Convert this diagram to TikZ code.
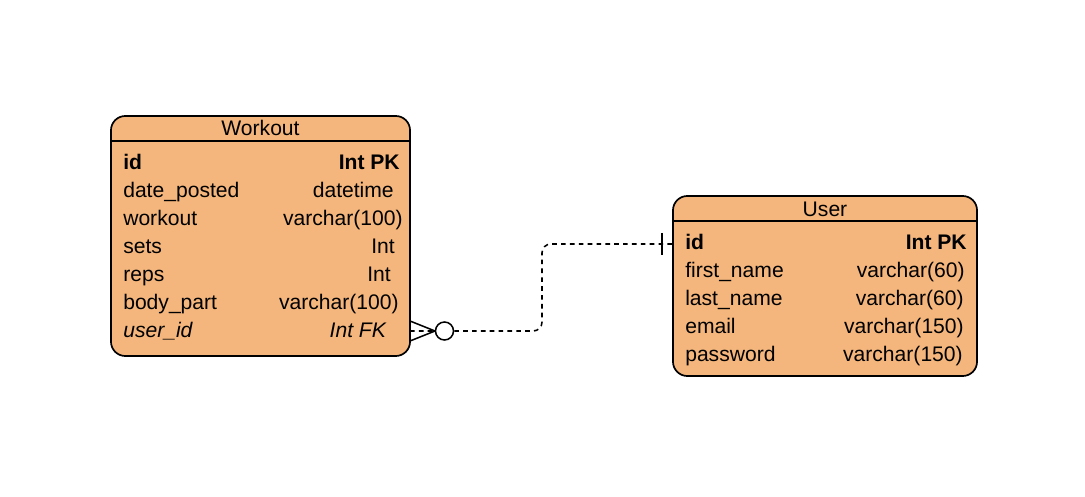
\documentclass[tikz,border=0pt]{standalone}
\usepackage{fontspec}
\setmainfont{Liberation Sans}
\definecolor{tablefill}{HTML}{F4B67C}

\begin{document}
\begin{tikzpicture}[x=0.025cm, y=-0.025cm,
	tbl/.style={draw, line width=1.2pt, fill=tablefill, rounded corners=0.36cm, inner sep=0pt, outer sep=0pt},
	txt/.style={inner sep=0pt, text height=14pt, text depth=2.8pt, font=\fontsize{15}{18}\selectfont},
	col/.style={txt, anchor=west},
	typ/.style={txt, anchor=east},
	rel/.style={line width=1.1pt, dash pattern=on 3.3pt off 3pt, rounded corners=0.22cm}]
	\useasboundingbox (0,0) rectangle (1085,497);

	% Workout table
	\node[tbl, minimum width=7.475cm, minimum height=6cm] (workout) at (260.5,236) {};
	\draw[line width=1.2pt] (111,141) -- (410,141);
	\node[txt] (workouttitle) at (260.5,128) {Workout};
	\node[col] (wid) at (123,162) {\textbf{id}};
	\node[typ] (widtype) at (400,162) {\textbf{Int PK}};
	\node[col] (wdate) at (123,190) {date\_posted};
	\node[typ] (wdatetype) at (394,190) {datetime};
	\node[col] (wname) at (123,218) {workout};
	\node[typ] (wnametype) at (403,218) {varchar(100)};
	\node[col] (wsets) at (123,246) {sets};
	\node[typ] (wsetstype) at (395,246) {Int};
	\node[col] (wreps) at (123,274) {reps};
	\node[typ] (wrepstype) at (391,274) {Int};
	\node[col] (wbody) at (123,302) {body\_part};
	\node[typ] (wbodytype) at (399,302) {varchar(100)};
	\node[col] (wuser) at (123,330) {\textit{user\_id}};
	\node[typ] (wusertype) at (387,330) {\textit{Int FK}};

	% User table
	\node[tbl, minimum width=7.6cm, minimum height=4.5cm] (user) at (825,286) {};
	\draw[line width=1.2pt] (673,221) -- (977,221);
	\node[txt] (usertitle) at (825,208.5) {User};
	\node[col] (uid) at (685,242) {\textbf{id}};
	\node[typ] (uidtype) at (967,242) {\textbf{Int PK}};
	\node[col] (ufirst) at (685,270) {first\_name};
	\node[typ] (ufirsttype) at (965,270) {varchar(60)};
	\node[col] (ulast) at (685,298) {last\_name};
	\node[typ] (ulasttype) at (964,298) {varchar(60)};
	\node[col] (uemail) at (685,326) {email};
	\node[typ] (uemailtype) at (964,326) {varchar(150)};
	\node[col] (upass) at (685,354) {password};
	\node[typ] (upasstype) at (963,354) {varchar(150)};

	% relation
	\coordinate (fk) at (410,331);
	\coordinate (pk) at (673,244);
	\draw[rel] (fk) -- (542,331) -- (542,244) -- (pk);
	\draw[line width=1.1pt] (410,321) -- (435,331) -- (410,341);
	\node[circle, draw, line width=1.1pt, fill=white, minimum size=0.45cm, inner sep=0pt] (many) at (444.5,331) {};
	\draw[line width=1.1pt] (662,233) -- (662,255);
\end{tikzpicture}
\end{document}
